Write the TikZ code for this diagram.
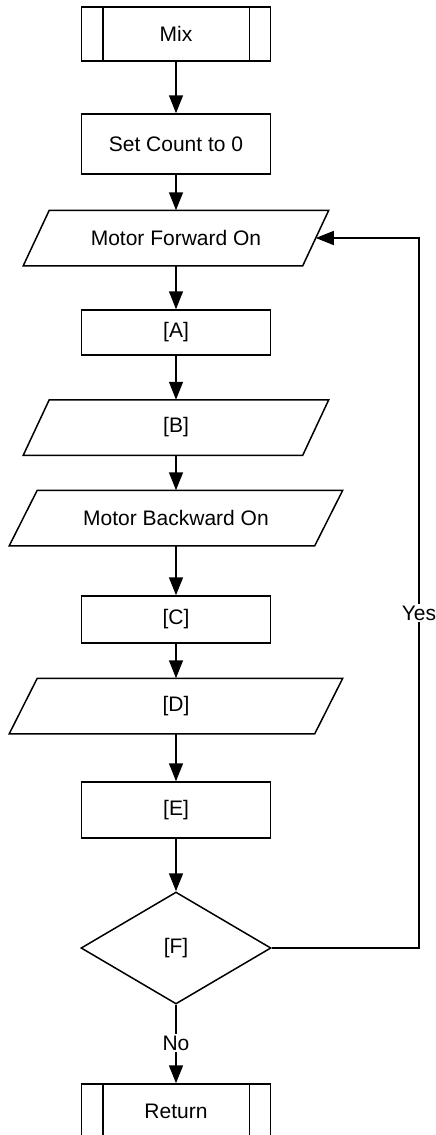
\documentclass[tikz,border=0pt]{standalone}
\usepackage{fontspec}
\setmainfont{Liberation Sans}
\usetikzlibrary{shapes.geometric,arrows.meta}
\begin{document}
\begin{tikzpicture}[x=1pt,y=-1pt,
  every node/.style={font=\fontsize{21}{24}\selectfont, line width=1.5pt, inner sep=0pt},
  proc/.style={draw, rectangle, minimum width=189pt},
  sub/.style={draw, rectangle, minimum width=189pt, minimum height=54pt},
  io/.style={rectangle, minimum height=54pt, minimum width=278pt},
  iow/.style={rectangle, minimum height=54pt, minimum width=304pt},
  dec/.style={draw, diamond, minimum width=190pt, minimum height=112pt},
  conn/.style={line width=1.5pt, -{Triangle[length=18pt,width=14pt]}},
  lbl/.style={fill=white, inner sep=2pt},
  edge/.style={line width=1.5pt, line join=miter}
]
\clip (0,0) rectangle (436,1135);
\fill[white] (0,0) rectangle (436,1135);

\node[sub] (mix) at (176,34) {Mix};
\node[proc, minimum height=60pt] (set) at (176,144) {Set Count to 0};
\node[io] (mf) at (176,238) {Motor Forward On};
\node[proc, minimum height=45pt] (a) at (176,332.5) {[A]};
\node[io] (b) at (176,427.5) {[B]};
\node[iow] (mb) at (176,518) {Motor Backward On};
\node[proc, minimum height=47pt] (c) at (176,619.5) {[C]};
\node[iow] (d) at (176,706) {[D]};
\node[proc, minimum height=56pt] (e) at (176,810) {[E]};
\node[dec] (f) at (176,948) {[F]};
\node[sub] (ret) at (176,1111) {Return};

% parallelogram outlines
\foreach \n/\s in {mf/13, b/13, mb/14, d/14}{
  \draw[edge] ([xshift=\s pt]\n.north west) -- ([xshift=\s pt]\n.north east)
    -- ([xshift=-\s pt]\n.south east) -- ([xshift=-\s pt]\n.south west) -- cycle;
}

% predefined-process inner bars
\foreach \n in {mix, ret}{
  \draw[edge] ([xshift=22pt]\n.north west) -- ([xshift=22pt]\n.south west);
  \draw[edge] ([xshift=-22pt]\n.north east) -- ([xshift=-22pt]\n.south east);
}

\draw[conn] (mix) -- (set);
\draw[conn] (set) -- (mf);
\draw[conn] (mf) -- (a);
\draw[conn] (a) -- (b);
\draw[conn] (b) -- (mb);
\draw[conn] (mb) -- (c);
\draw[conn] (c) -- (d);
\draw[conn] (d) -- (e);
\draw[conn] (e) -- (f);
\draw[conn] (f) -- (ret);

\coordinate (yr) at (419,948);
\coordinate (yt) at (419,238);
\draw[conn] (f.east) -- (yr) -- (yt) -- (mf.east);

\node[lbl] (yes) at (419,613) {Yes};
\node[lbl] (no) at (176,1043) {No};
\end{tikzpicture}
\end{document}
